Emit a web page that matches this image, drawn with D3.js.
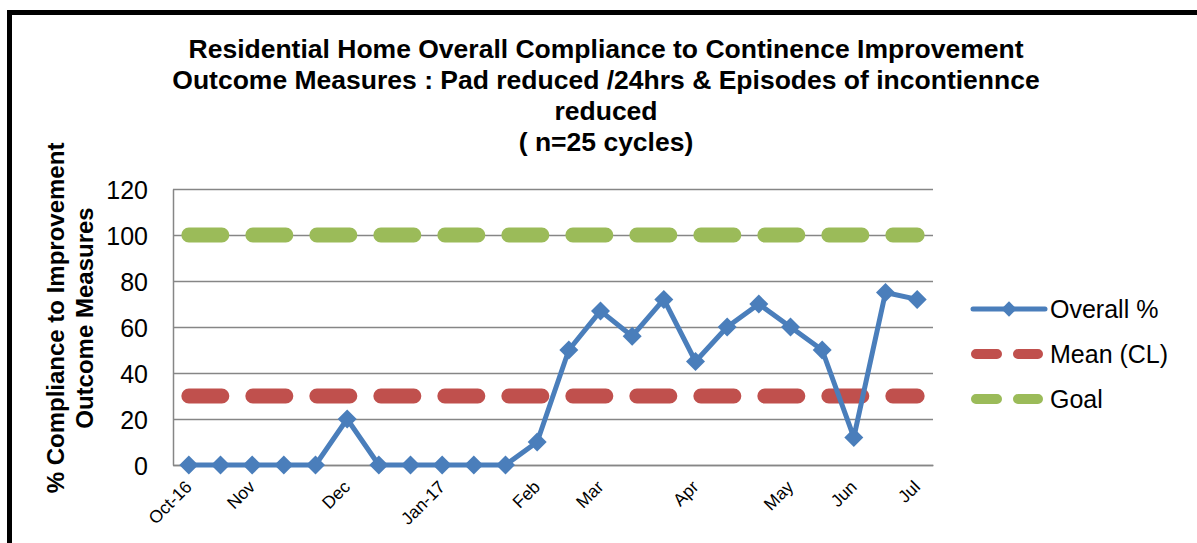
<!DOCTYPE html>
<html>
<head>
<meta charset="utf-8">
<script src="https://cdn.jsdelivr.net/npm/d3@7"></script>
<style>
  body { margin: 0; background: #fff; }
  text { font-family: "Liberation Sans", Arial, sans-serif; fill: #000; }
  .axis path, .axis line { stroke: #868686; }
</style>
</head>
<body>
<div class="chart"></div>
<script>
const categories = ["Oct-16", "", "Nov", "", "", "Dec", "", "", "Jan-17", "", "", "Feb",
                    "", "Mar", "", "", "Apr", "", "", "May", "", "Jun", "", "Jul"];
const overall = [0, 0, 0, 0, 0, 20, 0, 0, 0, 0, 0, 10, 50, 67, 56, 72, 45, 60, 70, 60, 50, 12, 75, 72];
const meanCL = [30, 30, 30, 30, 30, 30, 30, 30, 30, 30, 30, 30, 30, 30, 30, 30, 30, 30, 30, 30, 30, 30, 30, 30];
const goal = [100, 100, 100, 100, 100, 100, 100, 100, 100, 100, 100, 100, 100, 100, 100, 100, 100, 100, 100, 100, 100, 100, 100, 100];
const yTicks = [0, 20, 40, 60, 80, 100, 120];
const titleLines = ["Residential Home Overall Compliance to Continence Improvement",
                    "Outcome Measures : Pad reduced /24hrs & Episodes of incontiennce",
                    "reduced",
                    "( n=25 cycles)"];
const yTitleLines = ["% Compliance to Improvement", "Outcome Measures"];
const seriesNames = ["Overall %", "Mean (CL)", "Goal"];

const width = 1197, height = 543;
const plot = {left: 173, right: 933, top: 189, bottom: 465};

const svg = d3.select('.chart').append('svg')
    .attr("width", width)
    .attr("height", height);

// outer frame (runs off the right / bottom)
svg.append("rect")
    .attr("x", 9.5).attr("y", 12.5)
    .attr("width", 1400).attr("height", 1000)
    .attr("fill", "none")
    .attr("stroke", "#000")
    .attr("stroke-width", 5);

const xScale = d3.scaleBand()
    .domain(d3.range(categories.length))
    .range([plot.left, plot.right]);
const xc = i => xScale(i) + xScale.bandwidth() / 2;

const yScale = d3.scaleLinear()
    .domain([0, 120])
    .range([plot.bottom, plot.top]);

// gridlines
svg.append("g")
    .attr("class", "axis grid")
    .attr("transform", `translate(${plot.left},0)`)
    .call(d3.axisLeft(yScale).tickValues(yTicks).tickSize(-(plot.right - plot.left)).tickFormat(""))
    .call(g => g.select(".domain").remove())
    .selectAll("line").attr("stroke-width", 1.5);

// y axis
const yAxis = svg.append("g")
    .attr("class", "axis y-axis")
    .attr("transform", `translate(${plot.left},0)`)
    .call(d3.axisLeft(yScale).tickValues(yTicks).tickSize(0).tickPadding(25));
yAxis.select(".domain").attr("stroke-width", 1.5);
yAxis.selectAll("text")
    .style("font-size", "25px")
    .attr("dy", "0.36em");

// x axis
const xAxis = svg.append("g")
    .attr("class", "axis x-axis")
    .attr("transform", `translate(0,${plot.bottom})`)
    .call(d3.axisBottom(xScale).tickSize(0).tickFormat(i => categories[i]));
xAxis.select(".domain").attr("stroke-width", 1.5);
xAxis.selectAll("text")
    .style("font-size", "17.5px")
    .attr("text-anchor", "end")
    .attr("dy", null)
    .attr("y", 0)
    .attr("transform", "translate(4,23) rotate(-45)");

// dashed reference lines
const flatLine = d3.line().x((d, i) => xc(i)).y(d => yScale(d));

svg.append("path")
    .datum(goal)
    .attr("d", flatLine)
    .attr("fill", "none")
    .attr("stroke", "#9bbb59")
    .attr("stroke-width", 15)
    .attr("stroke-linecap", "round")
    .attr("stroke-dasharray", "33 31");

svg.append("path")
    .datum(meanCL)
    .attr("d", flatLine)
    .attr("fill", "none")
    .attr("stroke", "#c0504d")
    .attr("stroke-width", 15)
    .attr("stroke-linecap", "round")
    .attr("stroke-dasharray", "33 31");

// overall series
svg.append("path")
    .datum(overall)
    .attr("d", flatLine)
    .attr("fill", "none")
    .attr("stroke", "#4a7ebb")
    .attr("stroke-width", 5)
    .attr("stroke-linejoin", "round");

const diamond = d3.symbol().type(d3.symbolDiamond2).size(230);
svg.selectAll(".marker")
    .data(overall)
    .enter()
    .append("path")
    .attr("class", "marker")
    .attr("d", diamond)
    .attr("transform", (d, i) => `translate(${xc(i)},${yScale(d)})`)
    .attr("fill", "#4a7ebb");

// title
svg.append("text")
    .attr("text-anchor", "middle")
    .style("font-size", "26.5px")
    .style("font-weight", "bold")
    .selectAll("tspan")
    .data(titleLines)
    .enter()
    .append("tspan")
    .attr("x", 606)
    .attr("y", (d, i) => 58 + i * 31)
    .text(d => d);

// y title
svg.append("text")
    .attr("text-anchor", "middle")
    .attr("transform", "translate(0,318) rotate(-90)")
    .style("font-size", "24px")
    .style("font-weight", "bold")
    .selectAll("tspan")
    .data(yTitleLines)
    .enter()
    .append("tspan")
    .attr("x", 0)
    .attr("y", (d, i) => 64 + i * 29)
    .text(d => d);

// legend
const legendY = [309, 354, 399];
const legendColors = ["#4a7ebb", "#c0504d", "#9bbb59"];
const legend = svg.selectAll(".legend")
    .data(seriesNames)
    .enter()
    .append("g")
    .attr("class", "legend")
    .attr("transform", (d, i) => `translate(0,${legendY[i]})`);

legend.append("line")
    .attr("x1", (d, i) => i === 0 ? 973 : 976)
    .attr("x2", (d, i) => i === 0 ? 1045 : 1038)
    .attr("stroke", (d, i) => legendColors[i])
    .attr("stroke-width", (d, i) => i === 0 ? 5 : 10)
    .attr("stroke-linecap", "round")
    .attr("stroke-dasharray", (d, i) => i === 0 ? null : "21 21");

legend.filter((d, i) => i === 0)
    .append("path")
    .attr("d", d3.symbol().type(d3.symbolDiamond2).size(150))
    .attr("transform", "translate(1009,0)")
    .attr("fill", "#4a7ebb");

legend.append("text")
    .attr("x", 1050)
    .attr("dy", "0.36em")
    .style("font-size", "25px")
    .text(d => d);
</script>
</body>
</html>
